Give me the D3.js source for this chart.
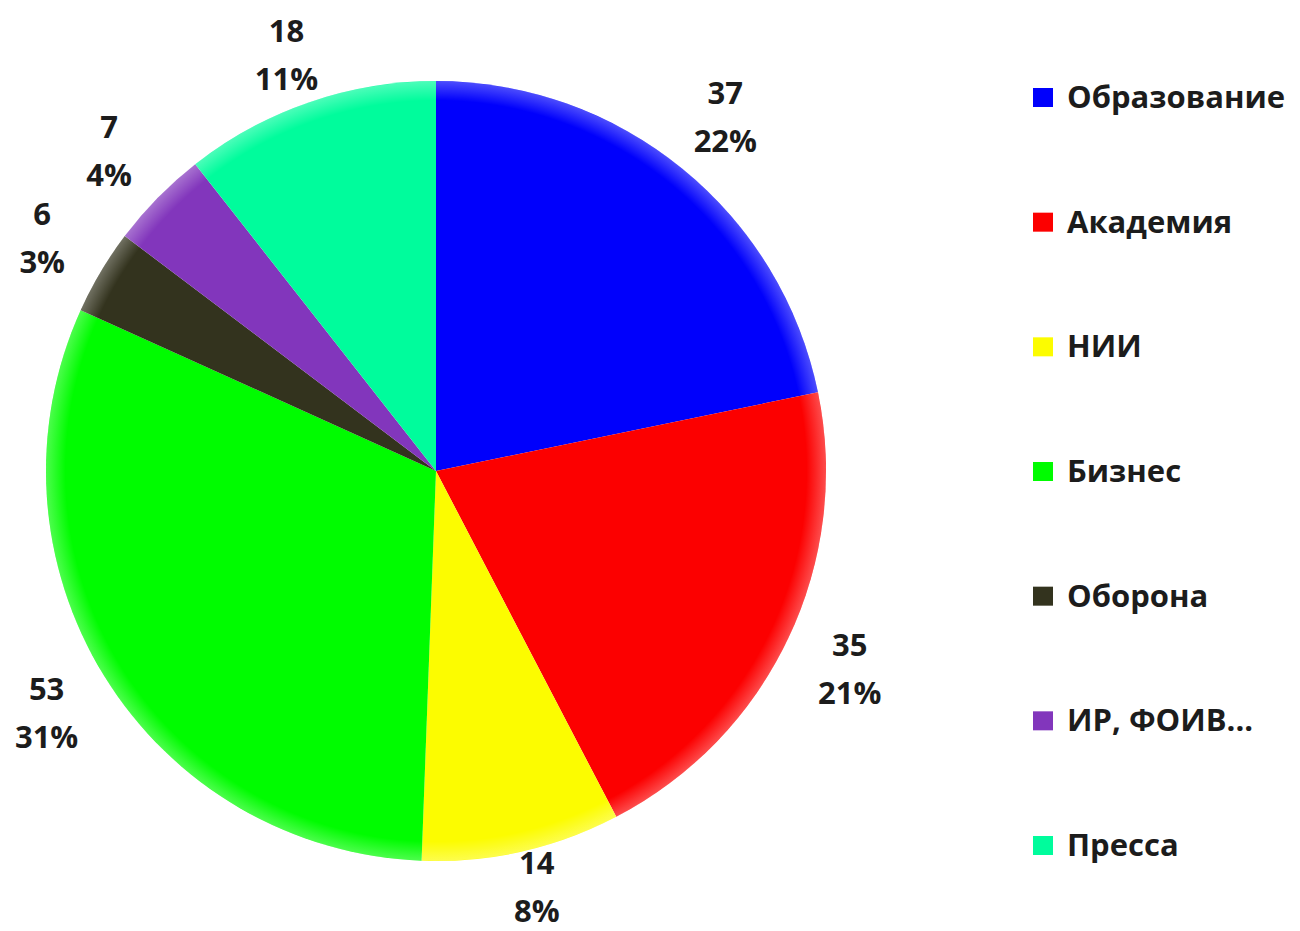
<!DOCTYPE html>
<html>
<head>
<meta charset="utf-8">
<script src="https://cdn.jsdelivr.net/npm/d3@7"></script>
<style>
body { margin: 0; background: #fff; }
svg text { font-family: "Open Sans", Lato, sans-serif; font-weight: 700; fill: #1c1c1c; }
</style>
</head>
<body>
<div class="chart"></div>
<script>
const categories = ['Образование', 'Академия', 'НИИ', 'Бизнес', 'Оборона', 'ИР, ФОИВ...', 'Пресса']
const values = [37, 35, 14, 53, 6, 7, 18]
const percents = ['22%', '21%', '8%', '31%', '3%', '4%', '11%']
const colors = ['#0000fc', '#fc0000', '#fcfc00', '#00fc00', '#33331e', '#8236bc', '#00fc9c']

const width = 1300, height = 931
const cx = 436, cy = 471, r = 390

const svg = d3.select('.chart').append('svg')
  .attr('width', width)
  .attr('height', height)

const defs = svg.append('defs')
const shine = defs.append('radialGradient').attr('id', 'shine')
shine.append('stop').attr('offset', '0.95').attr('stop-color', '#fff').attr('stop-opacity', 0)
shine.append('stop').attr('offset', '1').attr('stop-color', '#fff').attr('stop-opacity', 0.3)

const data = categories.map((c, i) => ({ name: c, value: values[i], pct: percents[i], color: colors[i] }))

const pie = d3.pie().value(d => d.value).sort(null)
const arcs = pie(data)

const arc = d3.arc().innerRadius(0).outerRadius(r)
const labelArc = d3.arc().innerRadius(458).outerRadius(458)

const g = svg.append('g').attr('transform', `translate(${cx},${cy})`)

g.selectAll('path.slice')
  .data(arcs)
  .enter()
  .append('path')
  .attr('class', 'slice')
  .attr('d', arc)
  .attr('fill', d => d.data.color)

g.append('circle')
  .attr('r', r)
  .attr('fill', 'url(#shine)')

// keep the two-line labels inside the picture, as the original does
const labelPos = d => {
  let c = labelArc.centroid(d)
  let y = Math.max(54 - cy, Math.min(886 - cy, c[1]))
  return [c[0], y]
}

const labels = g.selectAll('text.lbl')
  .data(arcs)
  .enter()
  .append('text')
  .attr('class', 'lbl')
  .attr('text-anchor', 'middle')
  .attr('font-size', 31)
  .attr('transform', d => 'translate(' + labelPos(d) + ')')

labels.append('tspan')
  .attr('x', 0)
  .attr('y', -12)
  .text(d => d.data.value)

labels.append('tspan')
  .attr('x', 0)
  .attr('dy', 48)
  .text(d => d.data.pct)

// legend
const legendY = d3.scalePoint()
  .domain(categories)
  .range([97, 845])

const legend = svg.append('g')
  .selectAll('g')
  .data(data)
  .enter()
  .append('g')
  .attr('transform', d => `translate(1033,${legendY(d.name)})`)

legend.append('rect')
  .attr('x', 0)
  .attr('y', -9)
  .attr('width', 20)
  .attr('height', 19)
  .attr('fill', d => d.color)

legend.append('text')
  .attr('x', 34)
  .attr('y', 11)
  .attr('font-size', 31)
  .text(d => d.name)
</script>
</body>
</html>
